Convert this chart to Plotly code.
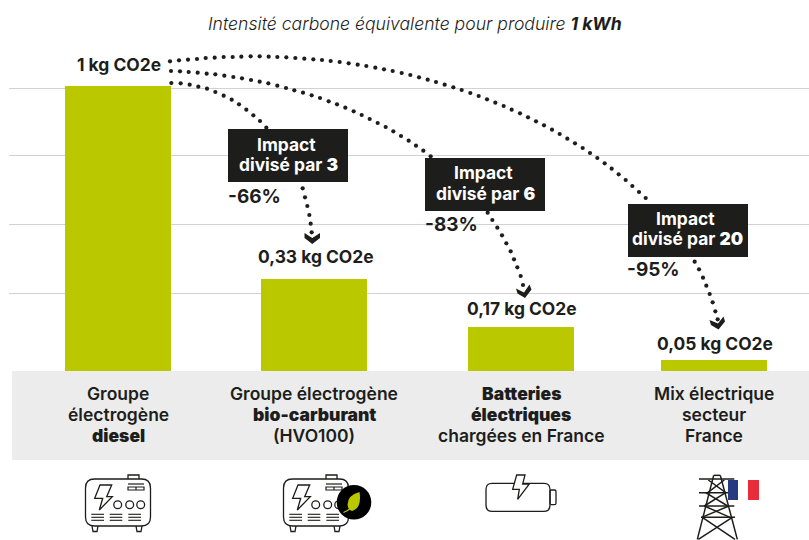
import plotly.graph_objects as go

# ---------- data ----------
categories = ["Groupe électrogène diesel", "Groupe électrogène bio-carburant (HVO100)",
              "Batteries électriques chargées en France", "Mix électrique secteur France"]
values = [1.0, 0.33, 0.163, 0.05]
value_labels = ["1 kg CO2e", "0,33 kg CO2e", "0,17 kg CO2e", "0,05 kg CO2e"]
grid_values = [0.993, 0.76, 0.52, 0.281, 0.0115]
HEAVY = '<span style="font-weight:900">%s</span>'
category_lines = [
    ["Groupe", "électrogène", HEAVY % "diesel"],
    ["Groupe électrogène", HEAVY % "bio-carburant", "(HVO100)"],
    [HEAVY % "Batteries", HEAVY % "électriques", "chargées en France"],
    ["Mix électrique", "secteur", "France"],
]
impact_lines = ["divisé par " + HEAVY % "3", "divisé par " + HEAVY % "6", "divisé par " + HEAVY % "20"]
impact_pct = ["-66%", "-83%", "-95%"]

# ---------- layout constants (pixels) ----------
W, H = 809, 540
bar_x = [118, 314, 521, 714]
bar_w = 106
PX_ZERO, PX_PER_UNIT, PANEL_TOP, PANEL_BOTTOM = 374, 288, 371, 460
INK, GREEN = "#1d1d1b", "#bac800"
FONT = "Inter"

def z(points, ox, oy):
    return [(ox + a / 3, oy + b / 3) for a, b in points]

# connector dots
arc1 = z([(19,99),(47,100),(74,104),(100,110),(126,116),(151,126),(176,137),(200,149),(222,163),(244,179),(265,196),(285,213),(304,233)],165,50) \
     + z([(908,565),(915,592),(922,618),(928,645),(932,671),(935,697)],0,0)
arc2 = z([(18,63),(45,64),(71,66),(98,68),(125,71),(151,73),(178,77),(205,81),(231,85),(258,90),(284,95),(310,100),(337,107),(363,114),(388,121),(414,128),(440,136),(465,144),(491,154),(516,163),(541,173),(566,184),(590,195),(614,207),(638,219),(662,231),(685,244),(708,258),(731,272),(753,287),(775,302),(797,319)],165,50) \
     + z([(263,248),(277,270),(292,293),(306,316),(319,340),(332,364),(342,388),(352,412),(362,438),(369,465)],400,130)
arc3 = z([(15,34),(42,31),(69,29),(96,27),(122,24),(149,23),(176,21),(203,21),(229,20),(257,19),(284,19),(311,20),(337,21),(364,22),(391,24),(418,26),(445,28),(471,30),(497,33),(524,36),(551,40),(578,44),(604,48),(631,53),(657,58),(683,63)],165,50) \
     + z([(5,39),(31,45),(57,52),(83,59),(108,66),(134,74),(160,82),(185,90),(211,99),(236,108),(261,118),(286,128),(311,138),(335,149),(360,160),(384,172),(408,184),(432,196),(456,209),(479,222),(502,236),(525,250),(548,264),(570,279),(592,294),(614,310),(635,326),(656,343),(677,360),(697,378),(717,396),(737,414)],400,60) \
     + z([(884,395),(897,418),(909,443),(919,467),(929,492),(938,517),(946,544),(953,568)],400,130)

fig = go.Figure()
fig.add_trace(go.Bar(x=bar_x, y=values, width=bar_w, marker=dict(color=GREEN, line_width=0),
                     customdata=categories, hoverinfo="skip", showlegend=False, xaxis="x", yaxis="y"))
for arc in (arc1, arc2, arc3):
    fig.add_trace(go.Scatter(x=[p[0] for p in arc], y=[p[1] for p in arc], mode="markers",
                             marker=dict(color=INK, size=4.2, line_width=0),
                             hoverinfo="skip", showlegend=False, xaxis="x2", yaxis="y2"))

shapes, annotations = [], []

def sh(path=None, fill=None, line=INK, lw=1.5, **kw):
    d = dict(xref="x2", yref="y2", layer="above", line=dict(color=line, width=lw))
    if path:
        d.update(type="path", path=path)
    if fill:
        d["fillcolor"] = fill
    d.update(kw)
    shapes.append(d)

def rect(x0, y0, x1, y1, fill, layer="above"):
    shapes.append(dict(type="rect", xref="x2", yref="y2", x0=x0, y0=y0, x1=x1, y1=y1,
                       fillcolor=fill, line_width=0, layer=layer))

def poly(pts, close=True):
    return "M " + " L ".join(f"{a:.2f},{b:.2f}" for a, b in pts) + (" Z" if close else "")

def rrect(x0, y0, x1, y1, r):
    return (f"M {x0+r},{y0} L {x1-r},{y0} Q {x1},{y0} {x1},{y0+r} L {x1},{y1-r} Q {x1},{y1} {x1-r},{y1} "
            f"L {x0+r},{y1} Q {x0},{y1} {x0},{y1-r} L {x0},{y0+r} Q {x0},{y0} {x0+r},{y0} Z")

def text(t, x, y, size=17, weight=600, color=INK, xanchor="center", italic=False):
    annotations.append(dict(text=t, x=x, y=y - 0.7, xref="x2", yref="y2", showarrow=False, xanchor=xanchor,
                            yanchor="middle", align="center",
                            font=dict(family=FONT, size=size, color=color, weight=weight,
                                      style="italic" if italic else "normal")))

# grey label panel
shapes.append(dict(type="rect", xref="x2", yref="y2", x0=12, x1=W, y0=PANEL_TOP, y1=PANEL_BOTTOM,
                   fillcolor="#ececec", line_width=0, layer="below"))

# impact boxes
rect(228, 129, 348, 182, INK)
rect(425, 158, 545, 211, INK)
rect(628, 204, 748, 257, INK)

# chevrons
sh(poly([(304.5,233),(312.3,238),(320,233),(320,238),(312.3,244),(304.5,238)]), fill=INK, lw=0)
sh(poly([(516,288.5),(524,292.5),(529.5,284.5),(531.5,289.5),(525,298),(517.5,293.5)]), fill=INK, lw=0)
sh(poly([(709.5,320),(718,323.5),(723.5,316.5),(725,321.5),(718.5,329.5),(711,325)]), fill=INK, lw=0)

# generator icon
def generator(dx):
    sh(rrect(85.5+dx, 479, 150.5+dx, 526, 9), fill="white", lw=1.3)
    sh(poly([(128+dx,479),(128+dx,475),(139+dx,475),(139+dx,479)], close=False), lw=1.3)
    sh(poly([(128+dx,484),(144+dx,484)], close=False), lw=1.2)
    sh(f"M {128+dx},487 L {144+dx},487 L {144+dx},490 L {128+dx},490 Z M {136+dx},487 L {136+dx},490", lw=1.2)
    sh(poly([(100+dx,485),(111.7+dx,485),(106.7+dx,496.7),(112.3+dx,496.7),(99.3+dx,510),(102.7+dx,498.3),(94.7+dx,498.3)]), lw=1.3)
    for cx in (117.7, 129.7, 140.7):
        sh(type="circle", x0=cx-3.9+dx, x1=cx+3.9+dx, y0=500.8, y1=508.6, lw=1.3)
    for x0, x1 in ((91.3,104), (109.7,122.3), (128.3,141)):
        for y in (514.3, 517.3, 520.3):
            sh(poly([(x0+dx,y),(x1+dx,y)], close=False), lw=1.1)
    for a in (92, 136):
        sh(poly([(a+dx,526),(a+1+dx,531.5),(a+5+dx,531.5),(a+6+dx,526)], close=False), lw=1.3)

generator(0)
generator(198)

# leaf badge
sh(type="circle", x0=336.7, x1=371.3, y0=485, y1=519.6, fillcolor="#000000", lw=0)
sh("M 359.5,492 Q 347.5,495 347.5,505 Q 348.5,510.5 352,511 Q 362,508 359.5,492 Z", fill=GREEN, lw=0)
sh("M 343.5,512.5 Q 350,510 354,504", line=GREEN, lw=1.2)

# battery icon
sh(rrect(486, 483.3, 550, 511.3, 6), fill="white", lw=1.3)
sh(rrect(550, 490, 556, 504.7, 1.5), lw=1.3)
sh(poly(z([(350,315),(375,315),(368,342),(388,342),(353,388),(358,358),(338,358)],400,370)), fill="white", lw=1.3)

# pylon icon
tower = [((86,16),(37,208)), ((106,16),(157,208)), ((86,16),(106,16)),
         ((42,27),(148,27)), ((42,68),(145,68)), ((42,108),(148,108)), ((48,142),(150,142)),
         ((70,30),(122,68)), ((118,30),(68,68)), ((62,68),(128,108)), ((122,68),(58,108)),
         ((58,108),(135,142)), ((132,108),(50,142)), ((52,142),(150,208)), ((142,142),(40,208))]
for a, b in tower:
    sh(poly(z([a, b], 685, 470), close=False), lw=1.5)

# flag
rect(728, 480, 738, 500, "#263a80")
rect(748, 480, 759, 500, "#e92c3b")

# texts
text("Intensité carbone équivalente pour produire <b>1 kWh</b>", 415, 24.5, size=17.6, weight=300, italic=True)
label_pos = [(118.5, 65), (315.5, 257), (522, 309), (714.5, 344)]
for (x, y), t in zip(label_pos, value_labels):
    text(t, x, y, size=17.4, weight=700)
for cx, lines in zip(bar_x, category_lines):
    for y, line in zip((394, 415, 436), lines):
        text(line, cx, y, size=17.5, weight=600)
for t, (xi, yi), (xl, yl) in zip(impact_lines,
                                 [(286, 145), (483, 173), (685.3, 219)],
                                 [(288, 165), (485, 194), (687, 239.5)]):
    text("Impact", xi, yi, color="white", size=17.4, weight=700)
    text(t, xl, yl, color="white", size=17.4, weight=700)
for t, x, y in zip(impact_pct, (226, 422.5, 625), (197, 225, 270)):
    text(t, x, y, size=19, weight=700, xanchor="left")

fig.update_layout(
    width=W, height=H, margin=dict(l=0, r=0, t=0, b=0), autosize=False,
    paper_bgcolor="white", plot_bgcolor="rgba(0,0,0,0)", showlegend=False, bargap=0,
    xaxis=dict(domain=[9/W, 1], range=[9, W], visible=False, fixedrange=True),
    yaxis=dict(domain=[1 - PANEL_TOP/H, 1], range=[(PX_ZERO-PANEL_TOP)/PX_PER_UNIT, PX_ZERO/PX_PER_UNIT],
               tickvals=grid_values, showticklabels=False, ticks="", showgrid=True, gridcolor="#d2d2d2",
               gridwidth=1.4, zeroline=False, showline=False, fixedrange=True),
    xaxis2=dict(domain=[0, 1], range=[0, W], visible=False, anchor="y2", fixedrange=True),
    yaxis2=dict(domain=[0, 1], range=[H, 0], visible=False, anchor="x2", fixedrange=True),
    shapes=shapes, annotations=annotations,
)
fig.write_html("out.html", config=dict(displayModeBar=False),
               post_script="document.body.style.margin='0';document.documentElement.style.overflow='hidden';")
